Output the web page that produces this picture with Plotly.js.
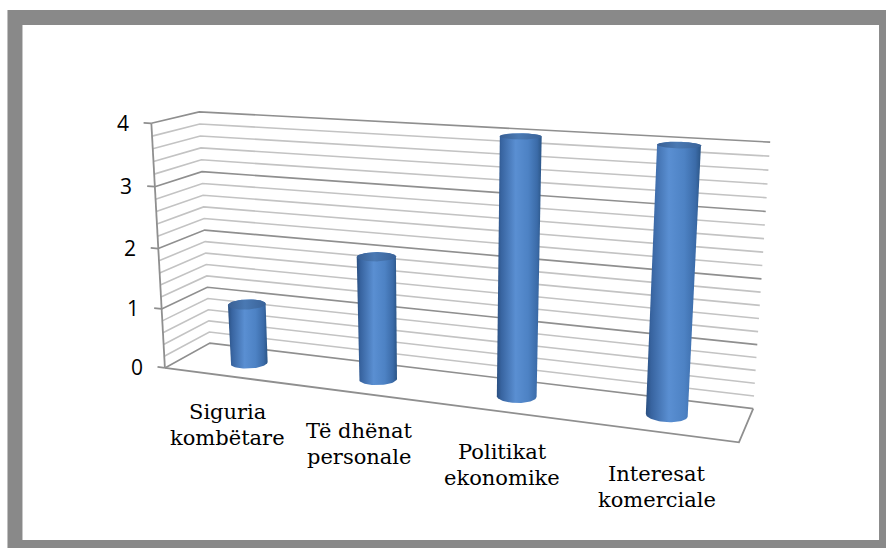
<!DOCTYPE html>
<html><head><meta charset="utf-8">
<script src="https://cdn.plot.ly/plotly-3.0.1.min.js"></script>
<style>html,body{margin:0;padding:0;background:#fff;}#chart{width:886px;height:548px;}</style>
</head><body><div id="chart"></div>
<script>
// ---------------- Data ----------------
const categories = ['Siguria kombëtare', 'Të dhënat personale', 'Politikat ekonomike', 'Interesat komerciale'];
const categoryLines = [['Siguria', 'kombëtare'], ['Të dhënat', 'personale'], ['Politikat', 'ekonomike'], ['Interesat', 'komerciale']];
const values = [1, 2, 4, 4];
const valueMax = 4;
const gridVals = [0, 0.2, 0.4, 0.6, 0.8, 1, 1.2, 1.4, 1.6, 1.8, 2, 2.2, 2.4, 2.6, 2.8, 3, 3.2, 3.4, 3.6, 3.8, 4];
const tickVals = [0, 1, 2, 3, 4];
const tickText = ['0', '1', '2', '3', '4'];

// ---------------- 3-D view (style) ----------------
const W = 886, H = 548;
const box = {width: 2.31, depth: 0.36, height: 1.0};     // plot box in world units
const barRadius = 0.076;
const cam = {eye: [2.855, -4.409, 1.721], yawDeg: 20.6, pitchDeg: 14.7, focalPx: 1325, centerPx: [440, 279]};
const serifFont = 'DejaVu Serif';
const sansFont = 'Open Sans';

const yaw = cam.yawDeg * Math.PI / 180, pitch = cam.pitchDeg * Math.PI / 180;
const R = [Math.cos(yaw), Math.sin(yaw), 0];
const U = [-Math.sin(yaw) * Math.sin(pitch), Math.cos(yaw) * Math.sin(pitch), Math.cos(pitch)];
const F = [-Math.sin(yaw) * Math.cos(pitch), Math.cos(yaw) * Math.cos(pitch), -Math.sin(pitch)];
function project(X, Y, Z) {
  const v = [X - cam.eye[0], Y - cam.eye[1], Z - cam.eye[2]];
  const cr = v[0] * R[0] + v[1] * R[1] + v[2] * R[2];
  const cu = v[0] * U[0] + v[1] * U[1] + v[2] * U[2];
  const cf = v[0] * F[0] + v[1] * F[1] + v[2] * F[2];
  return [cr / cf, cu / cf];
}
const zOf = v => v / valueMax * box.height;
const catW = box.width / categories.length;
const xOf = i => (i + 0.5) * catW;

// ---------------- traces ----------------
const traces = [];
function polyTrace(pointsList, color, width) {
  const x = [], y = [];
  pointsList.forEach(pts => { pts.forEach(p => { x.push(p[0]); y.push(p[1]); }); x.push(null); y.push(null); });
  return {type: 'scatter', mode: 'lines', x, y, line: {color, width}, hoverinfo: 'skip', showlegend: false};
}
// walls gridlines (left wall + back wall)
const minorLines = [], majorLines = [];
gridVals.forEach(g => {
  const z = zOf(g);
  const pl = [project(0, 0, z), project(0, box.depth, z), project(box.width, box.depth, z)];
  (tickVals.includes(g) ? majorLines : minorLines).push(pl);
});
traces.push(polyTrace(minorLines, '#c3c3c3', 1.6));
traces.push(polyTrace(majorLines, '#8f8f8f', 1.6));
// floor outline (front and right edges), vertical axis line and ticks
traces.push(polyTrace([[project(0, 0, 0), project(box.width, 0, 0), project(box.width, box.depth, 0)]], '#8f8f8f', 1.8));
traces.push(polyTrace([[project(0, 0, 0), project(0, 0, box.height)]], '#8f8f8f', 1.8));
const tickLen = 0.035;
traces.push(polyTrace(tickVals.map(t => [project(-tickLen, 0, zOf(t)), project(0, 0, zOf(t))]), '#8f8f8f', 1.8));

// cylinders
function hull(pts) {
  const p = pts.slice().sort((a, b) => a[0] - b[0] || a[1] - b[1]);
  const cross = (o, a, b) => (a[0] - o[0]) * (b[1] - o[1]) - (a[1] - o[1]) * (b[0] - o[0]);
  const lower = [], upper = [];
  for (const q of p) { while (lower.length >= 2 && cross(lower[lower.length - 2], lower[lower.length - 1], q) <= 0) lower.pop(); lower.push(q); }
  for (let k = p.length - 1; k >= 0; k--) { const q = p[k]; while (upper.length >= 2 && cross(upper[upper.length - 2], upper[upper.length - 1], q) <= 0) upper.pop(); upper.push(q); }
  upper.pop(); lower.pop();
  return lower.concat(upper);
}
const sideScale = [[0, '#2a4f80'], [0.1, '#3864a0'], [0.42, '#5a8fd2'], [0.7, '#4d82c4'], [0.9, '#3b6ba8'], [1, '#2b5586']];
const capScale = [[0, '#395f93'], [0.45, '#4a79b3'], [1, '#3a6399']];
values.forEach((v, i) => {
  const N = 72, ring0 = [], ring1 = [];
  for (let k = 0; k < N; k++) {
    const a = 2 * Math.PI * k / N;
    const X = xOf(i) + barRadius * Math.cos(a), Y = box.depth / 2 + barRadius * Math.sin(a);
    ring0.push(project(X, Y, 0)); ring1.push(project(X, Y, zOf(v)));
  }
  const side = hull(ring0.concat(ring1)); side.push(side[0]);
  traces.push({type: 'scatter', mode: 'lines', x: side.map(p => p[0]), y: side.map(p => p[1]), fill: 'toself',
    fillgradient: {type: 'horizontal', colorscale: sideScale}, line: {width: 0, color: 'rgba(0,0,0,0)'},
    hoverinfo: 'skip', showlegend: false, name: categories[i]});
  const cap = ring1.concat([ring1[0]]);
  traces.push({type: 'scatter', mode: 'lines', x: cap.map(p => p[0]), y: cap.map(p => p[1]), fill: 'toself',
    fillgradient: {type: 'horizontal', colorscale: capScale}, line: {width: 0, color: 'rgba(0,0,0,0)'},
    hoverinfo: 'skip', showlegend: false});
});

// ---------------- annotations ----------------
const annotations = [];
tickVals.forEach((t, k) => {
  const p = project(-tickLen, 0, zOf(t));
  annotations.push({x: p[0], y: p[1], xref: 'x', yref: 'y', text: tickText[k], showarrow: false,
    xanchor: 'right', yanchor: 'middle', xshift: -13, font: {family: sansFont, size: 21, color: '#000'}});
});
categoryLines.forEach((lines, i) => {
  const p = project(xOf(i), 0, 0);
  lines.forEach((ln, k) => annotations.push({x: p[0], y: p[1], xref: 'x', yref: 'y', text: ln, showarrow: false,
    xanchor: 'center', yanchor: 'top', yshift: -22 - 26 * k - 2 * i,
    font: {family: serifFont, size: 21, color: '#000'}}));
});

const f = cam.focalPx, c = cam.centerPx;
const layout = {
  width: W, height: H, margin: {l: 0, r: 0, t: 0, b: 0},
  font: {family: serifFont, color: '#000'},
  paper_bgcolor: '#fff', plot_bgcolor: '#fff', showlegend: false,
  xaxis: {range: [-c[0] / f, (W - c[0]) / f], visible: false, fixedrange: true},
  yaxis: {range: [(c[1] - H) / f, c[1] / f], visible: false, fixedrange: true},
  annotations,
  shapes: [{type: 'rect', xref: 'paper', yref: 'paper', x0: 0.0169, x1: 1.0006, y0: 0.0009, y1: 0.968,
            line: {color: '#898989', width: 15}, fillcolor: 'rgba(0,0,0,0)', layer: 'above'}]
};
Plotly.newPlot('chart', traces, layout, {displayModeBar: false, staticPlot: true});
</script>
</body></html>
